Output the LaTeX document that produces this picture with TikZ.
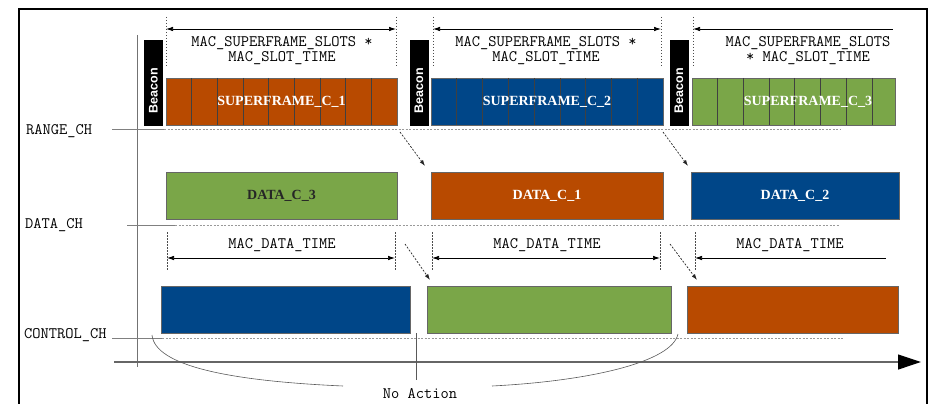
\documentclass[tikz,border=0pt]{standalone}
\usepackage{fontspec}
\setmainfont{Liberation Serif}
\setsansfont{Liberation Sans}
\usetikzlibrary{arrows.meta}
\definecolor{sfOrange}{RGB}{184,74,0}
\definecolor{sfBlue}{RGB}{0,70,136}
\definecolor{sfGreen}{RGB}{122,166,72}
\begin{document}
\begin{tikzpicture}[x=1pt,y=-1pt,
  ttext/.style={font=\ttfamily\fontsize{16}{15}\selectfont, inner sep=0pt, align=center},
  beaconbox/.style={fill=black, draw=black, line width=0.5pt, minimum width=18pt, minimum height=85pt,
    inner sep=0pt, outer sep=0pt},
  beacontext/.style={rotate=90, text=white, inner sep=0pt, font=\sffamily\bfseries\fontsize{12.5}{12.5}\selectfont},
  slotbox/.style={draw=black!60, line width=0.6pt, inner sep=0pt, outer sep=0pt, anchor=north west, minimum height=47pt},
  slotline/.style={draw=black!75, line width=0.7pt},
  boxtext/.style={font=\rmfamily\bfseries\fontsize{14}{14}\selectfont, text=white, inner sep=0pt},
  guide/.style={black!70, line width=0.5pt, dash pattern=on 1.5pt off 1.5pt},
  chline/.style={black!50, line width=0.6pt},
  chdots/.style={black!40, line width=0.6pt, dash pattern=on 2pt off 1.5pt},
  dimline/.style={black, line width=0.7pt},
  flow/.style={black!85, line width=0.7pt, dash pattern=on 2pt off 1.5pt, -{Latex[length=6pt,width=4pt]}},
  brace/.style={black!65, line width=0.6pt},
]
\useasboundingbox (0,0) rectangle (932,404);
\clip (0,0) rectangle (932,404);

% outer frame
\draw[line width=1.3pt] (19,9) rectangle (927,440);

% time axes
\draw[black!55, line width=0.8pt] (137,35) -- (137,367);
\draw[black!60, line width=1.2pt, -{Triangle[length=23pt,width=15pt,color=black]}] (114,362) -- (921,362);

% channel labels and baselines
\node[ttext, anchor=west] (rangech) at (26,131) {RANGE\_CH};
\node[ttext, anchor=west] (datach) at (25,225) {DATA\_CH};
\node[ttext, anchor=west] (ctrlch) at (24,335) {CONTROL\_CH};
\draw[chline] (112,129) -- (164,129);
\draw[chdots] (164,129) -- (840,129);
\draw[chline] (127,225) -- (175,225);
\draw[chdots] (175,225) -- (840,225);
\draw[chline] (112,338) -- (162,338);
\draw[chdots] (162,338) -- (843,338);

% beacons
\node[beaconbox] (b1) at (153.5,82.5) {};
\node[beaconbox] (b2) at (419,82.5) {};
\node[beaconbox] (b3) at (679,82.5) {};
\foreach \b in {b1,b2,b3} {
  \node[beacontext] at ([yshift=-8pt]\b.center) {Beacon};
}

% superframes on the ranging channel
\node[slotbox, fill=sfOrange, minimum width=231pt] (sf1) at (166,78) {};
\node[slotbox, fill=sfBlue, minimum width=232pt] (sf2) at (431,78) {};
\node[slotbox, fill=sfGreen, minimum width=203pt] (sf3) at (692,78) {};
\foreach \i in {1,...,8} {
  \draw[slotline] ({166+\i*25.67},78) -- ({166+\i*25.67},125);
  \draw[slotline] ({431+\i*25.78},78) -- ({431+\i*25.78},125);
}
\foreach \i in {1,...,7} {
  \draw[slotline] ({692+\i*25.7},78) -- ({692+\i*25.7},125);
}
\node[boxtext] at (sf1) {SUPERFRAME\_C\_1};
\node[boxtext] at (sf2) {SUPERFRAME\_C\_2};
\node[boxtext] at (808,101.5) {SUPERFRAME\_C\_3};

% superframe duration markers
\foreach \x in {166,396,433,661,693} {
  \draw[guide] (\x,17) -- (\x,68);
}
\coordinate (s1l) at (166,29);
\coordinate (s1r) at (396,29);
\coordinate (s2l) at (433,29);
\coordinate (s2r) at (661,29);
\coordinate (s3l) at (693,29);
\coordinate (s3r) at (893,29);
\draw[dimline, {Latex[length=7pt,width=4.5pt]}-{Latex[length=7pt,width=4.5pt]}] (s1l) -- (s1r);
\draw[dimline, {Latex[length=7pt,width=4.5pt]}-{Latex[length=7pt,width=4.5pt]}] (s2l) -- (s2r);
\draw[dimline, {Latex[length=7pt,width=4.5pt]}-] (s3l) -- (s3r);
\node[ttext] (sl1) at (282,50.5) {MAC\_SUPERFRAME\_SLOTS *\\MAC\_SLOT\_TIME};
\node[ttext] (sl2) at (546,50.5) {MAC\_SUPERFRAME\_SLOTS *\\MAC\_SLOT\_TIME};
\node[ttext] (sl3) at (808,50.5) {MAC\_SUPERFRAME\_SLOTS\\* MAC\_SLOT\_TIME};

% data channel
\node[slotbox, fill=sfGreen, minimum width=231pt] (dc3) at (166,172) {};
\node[slotbox, fill=sfOrange, minimum width=232pt] (dc1) at (431,172) {};
\node[slotbox, fill=sfBlue, minimum width=208pt] (dc2) at (691,172) {};
\node[boxtext, text=black!85] at (dc3) {DATA\_C\_3};
\node[boxtext] at (dc1) {DATA\_C\_1};
\node[boxtext] at (dc2) {DATA\_C\_2};

% data duration markers
\foreach \x in {167,395,432,660,695} {
  \draw[guide] (\x,232) -- (\x,270);
}
\coordinate (d1l) at (167,258);
\coordinate (d1r) at (395,258);
\coordinate (d2l) at (432,258);
\coordinate (d2r) at (660,258);
\coordinate (d3l) at (695,258);
\coordinate (d3r) at (886,258);
\draw[dimline, {Latex[length=7pt,width=4.5pt]}-{Latex[length=7pt,width=4.5pt]}] (d1l) -- (d1r);
\draw[dimline, {Latex[length=7pt,width=4.5pt]}-{Latex[length=7pt,width=4.5pt]}] (d2l) -- (d2r);
\draw[dimline, {Latex[length=7pt,width=4.5pt]}-] (d3l) -- (d3r);
\node[ttext] (dt1) at (282,245) {MAC\_DATA\_TIME};
\node[ttext] (dt2) at (547,245) {MAC\_DATA\_TIME};
\node[ttext] (dt3) at (790,245) {MAC\_DATA\_TIME};

% control channel
\node[slotbox, fill=sfBlue, minimum width=249pt] (ct1) at (161,286) {};
\node[slotbox, fill=sfGreen, minimum width=244pt] (ct2) at (427,286) {};
\node[slotbox, fill=sfOrange, minimum width=211pt] (ct3) at (687,286) {};

% hand-over arrows between channels
\draw[flow] ([shift={(3,7)}]sf1.south east) -- ([shift={(-6,-6)}]dc1.north west);
\draw[flow] ([shift={(0,7)}]sf2.south east) -- ([shift={(-3,-6)}]dc2.north west);
\draw[flow] ([shift={(8,25)}]dc3.south east) -- ([shift={(3,-6)}]ct2.north west);
\draw[flow] ([shift={(7,25)}]dc1.south east) -- ([shift={(10,-6)}]ct3.north west);

% idle interval
\draw[brace] (416,333) -- (416,380);
\draw[brace] (152,335) .. controls (155,366) and (230,381) .. (343,386);
\draw[brace] (678,334) .. controls (672,362) and (590,381) .. (492,386);
\node[ttext] (noact) at (420,394) {No Action};
\end{tikzpicture}
\end{document}
